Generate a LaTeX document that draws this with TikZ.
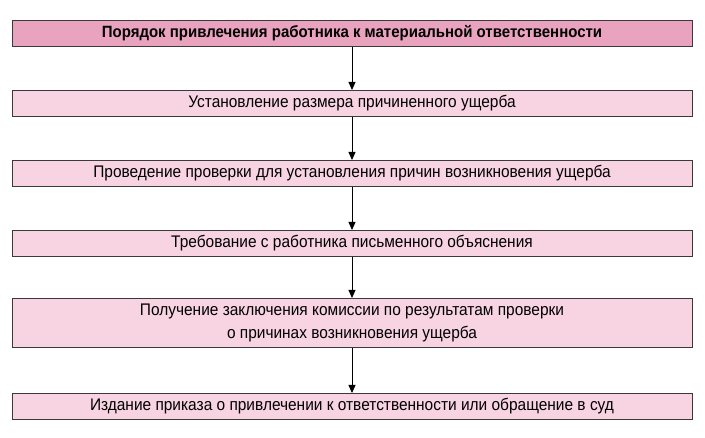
\documentclass[tikz,border=0pt]{standalone}
\usepackage{fontspec}
\setmainfont[FakeStretch=0.92]{Liberation Sans}
\usetikzlibrary{arrows.meta}
\definecolor{pinkA}{HTML}{E9A3BF}
\definecolor{pinkB}{HTML}{F8D4E2}
\definecolor{edge}{HTML}{3A3A3A}
\tikzset{
 stepbox/.style={draw=edge,line width=0.9pt,fill=pinkB,minimum width=680pt,inner sep=0pt,align=center,font=\fontsize{16.8}{23}\selectfont,anchor=north},
 headbox/.style={stepbox,fill=pinkA,font=\fontsize{16.3}{20}\selectfont\bfseries},
 conn/.style={draw=black,line width=0.8pt,-{Triangle[length=8pt,width=7pt]}}
}
\begin{document}
\begin{tikzpicture}[x=1pt,y=-1pt]
\useasboundingbox (0,0) rectangle (705,438);
\node[headbox,minimum height=26pt] (a) at (352,20) {Порядок привлечения работника к материальной ответственности};
\node[stepbox,minimum height=26pt] (b) at (352,90) {Установление размера причиненного ущерба};
\node[stepbox,minimum height=26pt] (c) at (352,160) {Проведение проверки для установления причин возникновения ущерба};
\node[stepbox,minimum height=26pt] (d) at (352,230) {Требование с работника письменного объяснения};
\node[stepbox,minimum height=49pt] (e) at (352,298) {Получение заключения комиссии по результатам проверки\\о причинах возникновения ущерба};
\node[stepbox,minimum height=26pt] (f) at (352,393) {Издание приказа о привлечении к ответственности или обращение в суд};
\draw[conn] (a) -- (b);
\draw[conn] (b) -- (c);
\draw[conn] (c) -- (d);
\draw[conn] (d) -- (e);
\draw[conn] (e) -- (f);
\end{tikzpicture}
\end{document}
